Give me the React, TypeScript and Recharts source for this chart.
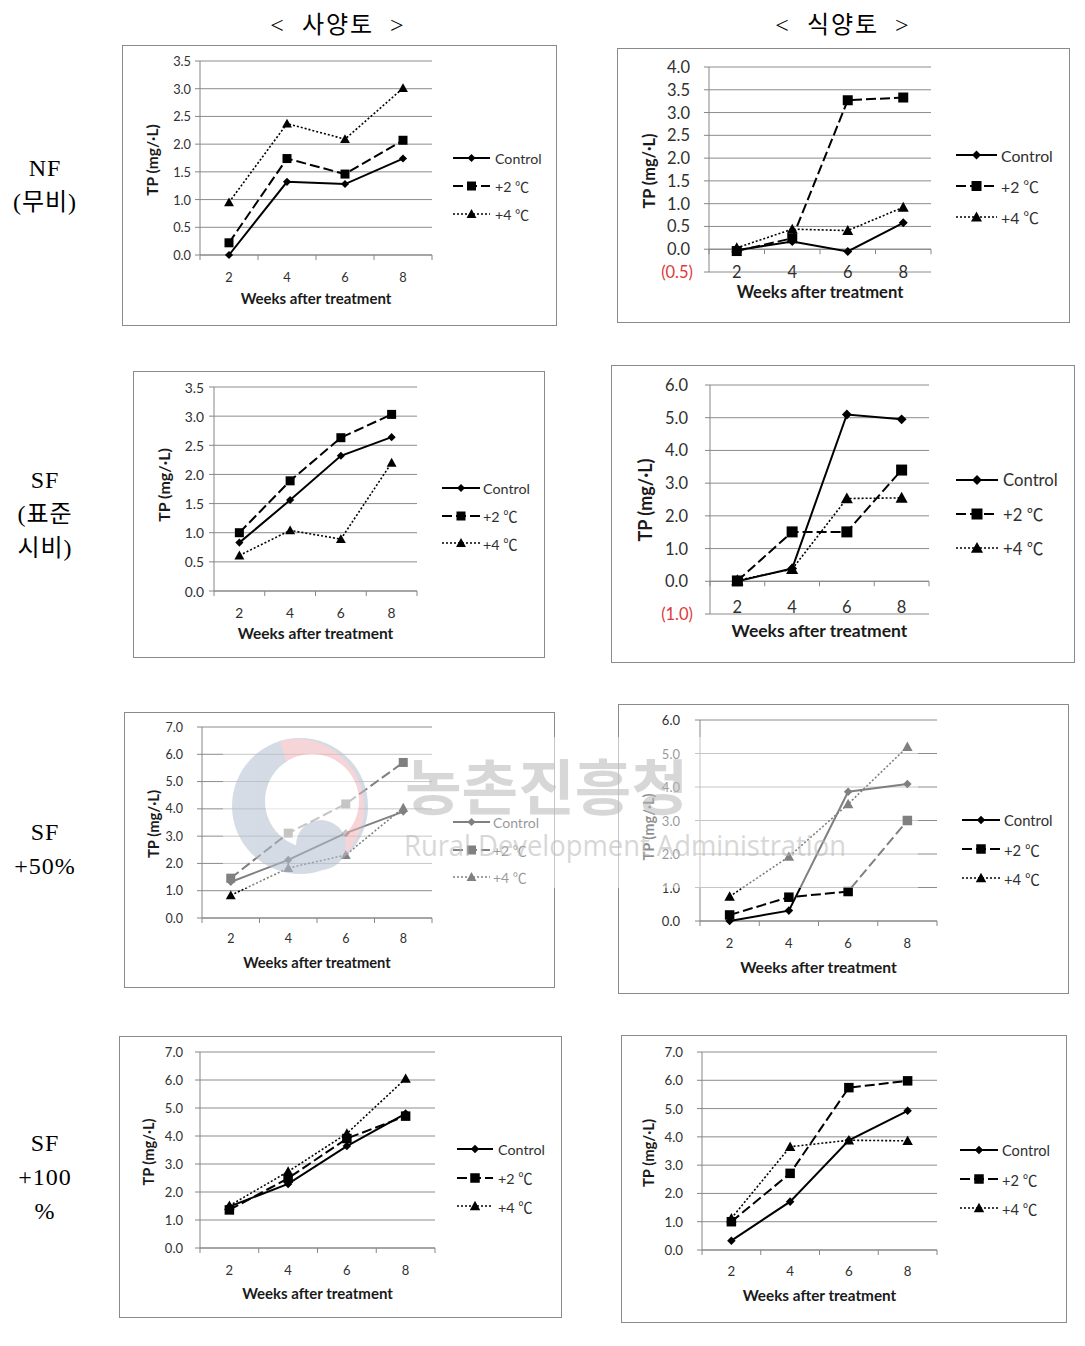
import React from "react";
import {
  LineChart,
  Line,
  XAxis,
  YAxis,
  CartesianGrid,
  ReferenceLine,
  Legend,
} from "recharts";

// x categories (weeks after treatment) and the category boundaries used for axis tick marks
const weeks = [2, 4, 6, 8];
const weekBounds = [1, 3, 5, 7, 9];
const seriesNames = ["Control", "+2 ℃", "+4 ℃"];
const seriesKeys = ["control", "plus2", "plus4"];

// NF (무비)
const nfSandyControl = [0.0, 1.32, 1.28, 1.74];
const nfSandyPlus2 = [0.22, 1.74, 1.46, 2.07];
const nfSandyPlus4 = [0.95, 2.37, 2.09, 3.01];
const nfClayControl = [-0.02, 0.17, -0.05, 0.58];
const nfClayPlus2 = [-0.04, 0.24, 3.27, 3.33];
const nfClayPlus4 = [0.03, 0.44, 0.41, 0.92];

// SF (표준시비)
const sfSandyControl = [0.83, 1.56, 2.32, 2.64];
const sfSandyPlus2 = [1.0, 1.89, 2.63, 3.03];
const sfSandyPlus4 = [0.61, 1.04, 0.89, 2.2];
const sfClayControl = [0.0, 0.39, 5.1, 4.95];
const sfClayPlus2 = [0.01, 1.51, 1.51, 3.4];
const sfClayPlus4 = [0.03, 0.37, 2.53, 2.55];

// SF +50%
const sf50SandyControl = [1.32, 2.13, 3.11, 3.9];
const sf50SandyPlus2 = [1.46, 3.11, 4.18, 5.7];
const sf50SandyPlus4 = [0.83, 1.83, 2.31, 4.04];
const sf50ClayControl = [0.0, 0.31, 3.86, 4.09];
const sf50ClayPlus2 = [0.18, 0.71, 0.88, 3.0];
const sf50ClayPlus4 = [0.73, 1.92, 3.49, 5.2];

// SF +100%
const sf100SandyControl = [1.48, 2.29, 3.64, 4.8];
const sf100SandyPlus2 = [1.36, 2.49, 3.91, 4.71];
const sf100SandyPlus4 = [1.51, 2.73, 4.09, 6.05];
const sf100ClayControl = [0.33, 1.71, 3.88, 4.92];
const sf100ClayPlus2 = [1.0, 2.71, 5.74, 5.98];
const sf100ClayPlus4 = [1.12, 3.65, 3.88, 3.86];

// y tick labels
const ticks35 = [0, 0.5, 1.0, 1.5, 2.0, 2.5, 3.0, 3.5];
const ticks40 = [-0.5, 0, 0.5, 1.0, 1.5, 2.0, 2.5, 3.0, 3.5, 4.0];
const ticks6neg = [-1, 0, 1, 2, 3, 4, 5, 6];
const ticks6 = [0, 1, 2, 3, 4, 5, 6];
const ticks7 = [0, 1, 2, 3, 4, 5, 6, 7];

const FONT = "Lato, 'Noto Sans CJK KR', sans-serif";
const TEXT = "#303030";
const GRID = "#8c8c8c";
const AXIS = "#868686";
const RED = "#e0383c";

const seriesStyle = [
  { marker: "diamond", width: 2, dash: undefined as string | undefined },
  { marker: "square", width: 2, dash: "10 4" },
  { marker: "triangle", width: 1.6, dash: "2 2" },
];

function Marker({ kind, cx, cy, s }: { kind: string; cx: number; cy: number; s: number }) {
  if (cx == null || cy == null) return <g />;
  if (kind === "diamond") {
    const h = s * 0.45;
    return <polygon points={`${cx},${cy - h} ${cx + h},${cy} ${cx},${cy + h} ${cx - h},${cy}`} fill="#000" />;
  }
  if (kind === "square") {
    return <rect x={cx - s / 2} y={cy - s / 2} width={s} height={s} fill="#000" />;
  }
  const h = s * 0.55;
  return <polygon points={`${cx},${cy - h} ${cx + h},${cy + h * 0.8} ${cx - h},${cy + h * 0.8}`} fill="#000" />;
}

interface PanelCfg {
  box: number[];
  plot: number[];
  domain: number[];
  ticks: number[];
  series: number[][];
  tickFont: number;
  titleFont: number;
  yLabelFont: number;
  legendFont: number;
  marker: number;
  yGap: number;
  yGapNeg: number;
  xLabelY: number;
  titleY: number;
  yLabelX: number;
  yLabelY: number;
  legend: { x0: number; x1: number; tx: number; ys: number[] };
}

const panels: PanelCfg[] = [
  {
    box: [122, 45, 435, 281], plot: [200, 61, 432, 255], domain: [0, 3.5], ticks: ticks35,
    series: [nfSandyControl, nfSandyPlus2, nfSandyPlus4],
    tickFont: 12.8, titleFont: 15, yLabelFont: 15.5, legendFont: 14.2, marker: 9, yGap: 9, yGapNeg: 9,
    xLabelY: 277, titleY: 298, yLabelX: 152, yLabelY: 160,
    legend: { x0: 453, x1: 490, tx: 495, ys: [158, 186, 214] },
  },
  {
    box: [617, 48, 453, 275], plot: [709, 67, 931, 272], domain: [-0.5, 4], ticks: ticks40,
    series: [nfClayControl, nfClayPlus2, nfClayPlus4],
    tickFont: 16.5, titleFont: 16.6, yLabelFont: 16.3, legendFont: 15.8, marker: 10, yGap: 19, yGapNeg: 16,
    xLabelY: 272, titleY: 292, yLabelX: 648, yLabelY: 171,
    legend: { x0: 956, x1: 997, tx: 1001, ys: [155, 186, 217] },
  },
  {
    box: [133, 371, 412, 287], plot: [214, 387, 417, 591], domain: [0, 3.5], ticks: ticks35,
    series: [sfSandyControl, sfSandyPlus2, sfSandyPlus4],
    tickFont: 13.8, titleFont: 15.5, yLabelFont: 16, legendFont: 14.3, marker: 9, yGap: 10, yGapNeg: 10,
    xLabelY: 612, titleY: 633, yLabelX: 163, yLabelY: 485,
    legend: { x0: 442, x1: 480, tx: 483, ys: [488, 516, 543] },
  },
  {
    box: [611, 365, 464, 298], plot: [710, 385, 929, 614], domain: [-1, 6], ticks: ticks6neg,
    series: [sfClayControl, sfClayPlus2, sfClayPlus4],
    tickFont: 16.5, titleFont: 17.5, yLabelFont: 18, legendFont: 16.7, marker: 11, yGap: 22, yGapNeg: 17,
    xLabelY: 607, titleY: 630, yLabelX: 645, yLabelY: 500,
    legend: { x0: 956, x1: 998, tx: 1003, ys: [480, 515, 548] },
  },
  {
    box: [124, 712, 431, 276], plot: [202, 727, 432, 918], domain: [0, 7], ticks: ticks7,
    series: [sf50SandyControl, sf50SandyPlus2, sf50SandyPlus4],
    tickFont: 12.5, titleFont: 14.7, yLabelFont: 14.8, legendFont: 14, marker: 9, yGap: 19, yGapNeg: 19,
    xLabelY: 938, titleY: 962, yLabelX: 153, yLabelY: 824,
    legend: { x0: 453, x1: 490, tx: 493, ys: [822, 851, 877] },
  },
  {
    box: [618, 704, 451, 290], plot: [700, 720, 937, 921], domain: [0, 6], ticks: ticks6,
    series: [sf50ClayControl, sf50ClayPlus2, sf50ClayPlus4],
    tickFont: 13, titleFont: 15.6, yLabelFont: 14.6, legendFont: 14.8, marker: 9.5, yGap: 20, yGapNeg: 20,
    xLabelY: 943, titleY: 967, yLabelX: 648, yLabelY: 827,
    legend: { x0: 962, x1: 1000, tx: 1004, ys: [820, 850, 878] },
  },
  {
    box: [119, 1036, 443, 282], plot: [200, 1052, 435, 1248], domain: [0, 7], ticks: ticks7,
    series: [sf100SandyControl, sf100SandyPlus2, sf100SandyPlus4],
    tickFont: 13, titleFont: 15, yLabelFont: 14.6, legendFont: 14.3, marker: 9.5, yGap: 17, yGapNeg: 17,
    xLabelY: 1270, titleY: 1293, yLabelX: 148, yLabelY: 1152,
    legend: { x0: 457, x1: 493, tx: 498, ys: [1149, 1178, 1206] },
  },
  {
    box: [621, 1035, 446, 288], plot: [702, 1052, 937, 1250], domain: [0, 7], ticks: ticks7,
    series: [sf100ClayControl, sf100ClayPlus2, sf100ClayPlus4],
    tickFont: 13.3, titleFont: 15.3, yLabelFont: 14.8, legendFont: 14.6, marker: 9.5, yGap: 19, yGapNeg: 19,
    xLabelY: 1271, titleY: 1295, yLabelX: 648, yLabelY: 1153,
    legend: { x0: 960, x1: 998, tx: 1002, ys: [1150, 1179, 1208] },
  },
];

function Panel({ cfg }: { cfg: PanelCfg }) {
  const [bx, by, bw, bh] = cfg.box;
  const [pl, pt, pr, pb] = cfg.plot;
  const [ymin, ymax] = cfg.domain;
  const rows = weeks.map((w, i) => ({
    week: w,
    control: cfg.series[0][i],
    plus2: cfg.series[1][i],
    plus4: cfg.series[2][i],
  }));
  const tickLen = (5 * (ymax - ymin)) / (pb - pt);
  const rowH = (cfg.legend.ys[2] - cfg.legend.ys[0]) / 2;
  const lw = cfg.legend.x1 - cfg.legend.x0;

  const renderLegend = () => (
    <div style={{ fontFamily: FONT, fontSize: cfg.legendFont, color: TEXT }}>
      {seriesNames.map((name, i) => (
        <div key={name} style={{ height: rowH, display: "flex", alignItems: "center" }}>
          <svg width={lw} height={14} style={{ overflow: "visible" }}>
            <line
              x1={0}
              y1={7}
              x2={lw}
              y2={7}
              stroke="#000"
              strokeWidth={seriesStyle[i].width}
              strokeDasharray={seriesStyle[i].dash}
            />
            <Marker kind={seriesStyle[i].marker} cx={lw / 2} cy={7} s={cfg.marker} />
          </svg>
          <span style={{ marginLeft: cfg.legend.tx - cfg.legend.x1, whiteSpace: "nowrap" }}>{name}</span>
        </div>
      ))}
    </div>
  );

  return (
    <div style={{ position: "absolute", left: bx, top: by, width: bw, height: bh }}>
      <LineChart
        width={bw}
        height={bh}
        data={rows}
        margin={{ top: pt - by, right: bx + bw - pr, bottom: 0, left: 0 }}
      >
        <CartesianGrid vertical={false} stroke={GRID} />
        <XAxis
          type="number"
          dataKey="week"
          domain={[1, 9]}
          ticks={weeks}
          interval={0}
          axisLine={false}
          tickLine={false}
          tickSize={0}
          tickMargin={0}
          height={by + bh - pb}
          tick={(p: any) => (
            <text
              x={p.x}
              y={p.y + (cfg.xLabelY - pb)}
              textAnchor="middle"
              dominantBaseline="central"
              fontFamily={FONT}
              fontSize={cfg.tickFont}
              fill={TEXT}
            >
              {p.payload.value}
            </text>
          )}
          label={{
            value: "Weeks after treatment",
            content: () => (
              <text
                x={(pl + pr) / 2 - bx}
                y={cfg.titleY - by}
                textAnchor="middle"
                dominantBaseline="central"
                fontFamily={FONT}
                fontSize={cfg.titleFont}
                fontWeight="bold"
                fill="#1a1a1a"
              >
                Weeks after treatment
              </text>
            ),
          }}
        />
        <YAxis
          type="number"
          domain={cfg.domain}
          ticks={cfg.ticks}
          interval={0}
          width={pl - bx}
          tickSize={5}
          tickMargin={0}
          axisLine={{ stroke: AXIS }}
          tickLine={{ stroke: AXIS }}
          tick={(p: any) => {
            const v = p.payload.value;
            const neg = v < 0;
            return (
              <text
                x={p.x + 5 - (neg ? cfg.yGapNeg : cfg.yGap)}
                y={p.y}
                textAnchor="end"
                dominantBaseline="central"
                fontFamily={FONT}
                fontSize={cfg.tickFont}
                fill={neg ? RED : TEXT}
              >
                {neg ? `(${Math.abs(v).toFixed(1)})` : v.toFixed(1)}
              </text>
            );
          }}
          label={{
            value: "TP (mg/·L)",
            content: () => (
              <text
                x={cfg.yLabelX - bx}
                y={cfg.yLabelY - by}
                transform={`rotate(-90 ${cfg.yLabelX - bx} ${cfg.yLabelY - by})`}
                textAnchor="middle"
                dominantBaseline="central"
                fontFamily={FONT}
                fontSize={cfg.yLabelFont}
                fontWeight="bold"
                fill="#1a1a1a"
              >
                TP (mg/·L)
              </text>
            ),
          }}
        />
        <ReferenceLine y={0} stroke={AXIS} ifOverflow="visible" />
        {weekBounds.map((b) => (
          <ReferenceLine
            key={`tk-${b}`}
            segment={[
              { x: b, y: 0 },
              { x: b, y: -tickLen },
            ]}
            stroke={AXIS}
            ifOverflow="visible"
          />
        ))}
        {seriesKeys.map((k, i) => (
          <Line
            key={k}
            type="linear"
            dataKey={k}
            stroke="#000"
            strokeWidth={seriesStyle[i].width}
            strokeDasharray={seriesStyle[i].dash}
            dot={(p: any) => (
              <Marker key={`${k}-${p.index}`} kind={seriesStyle[i].marker} cx={p.cx} cy={p.cy} s={cfg.marker} />
            )}
            activeDot={false}
            isAnimationActive={false}
          />
        ))}
        <Legend
          layout="horizontal"
          verticalAlign="middle"
          align="center"
          width={130}
          content={renderLegend}
          wrapperStyle={{
            left: cfg.legend.x0 - bx,
            top: cfg.legend.ys[0] - rowH / 2 - by,
            width: 130,
          }}
        />
      </LineChart>
      <div
        style={{
          position: "absolute",
          left: 0,
          top: 0,
          width: bw,
          height: bh,
          boxSizing: "border-box",
          border: "1px solid #8a8a8a",
          pointerEvents: "none",
        }}
      />
    </div>
  );
}

// Semi-transparent agency watermark that sits over the SF+50% row
function Watermark() {
  const cx = 300;
  const cy = 806;
  const r = 68;
  return (
    <svg
      width={1085}
      height={1346}
      style={{ position: "absolute", left: 0, top: 0, pointerEvents: "none" }}
    >
      <rect x={223} y={737} width={695} height={151} fill="#fff" opacity={0.5} />
      <g opacity={0.55}>
        <circle cx={cx} cy={cy} r={r} fill="#b3bfcf" />
        <path
          d={`M ${cx - 20} ${cy - r + 3} A ${r} ${r} 0 0 1 ${cx + 30} ${cy + r - 8} L ${cx} ${cy} Z`}
          fill="#f0b4b9"
        />
        <circle cx={312} cy={801} r={47} fill="#fff" />
        <circle cx={321} cy={845} r={25} fill="#b3bfcf" />
      </g>
      <text
        x={405}
        y={810}
        fontFamily="'Noto Sans CJK KR', sans-serif"
        fontSize={60}
        fontWeight="bold"
        textLength={283}
        lengthAdjust="spacingAndGlyphs"
        fill="#b8b8b8"
        opacity={0.55}
      >
        농촌진흥청
      </text>
      <text
        x={404}
        y={856}
        fontFamily="'Open Sans', sans-serif"
        fontSize={30}
        textLength={442}
        lengthAdjust="spacingAndGlyphs"
        fill="#b8b8b8"
        opacity={0.55}
      >
        Rural Development Administration
      </text>
    </svg>
  );
}

const rowLabels = [
  { lines: ["NF", "(무비)"], top: 168 },
  { lines: ["SF", "(표준", "시비)"], top: 480 },
  { lines: ["SF", "+50%"], top: 832 },
  { lines: ["SF", "+100", "%"], top: 1143 },
];

const headers = [
  { text: "<  사양토  >", cx: 338 },
  { text: "<  식양토  >", cx: 843 },
];

const serif = "'Liberation Serif', 'Noto Sans CJK KR', serif";

export default function App() {
  return (
    <div
      style={{
        position: "absolute",
        left: 0,
        top: 0,
        width: 1085,
        height: 1346,
        background: "#fff",
        overflow: "hidden",
      }}
    >
      {headers.map((h) => (
        <div
          key={h.text}
          style={{
            position: "absolute",
            left: h.cx - 100,
            top: 8,
            width: 200,
            textAlign: "center",
            fontFamily: serif,
            fontSize: 24,
            letterSpacing: 2,
            whiteSpace: "pre",
            lineHeight: "34px",
          }}
        >
          {h.text}
        </div>
      ))}
      {rowLabels.map((r) => (
        <div
          key={r.top}
          style={{
            position: "absolute",
            left: 0,
            top: r.top - 17,
            width: 90,
            textAlign: "center",
            fontFamily: serif,
            fontSize: 24,
            lineHeight: "34px",
            letterSpacing: 1,
          }}
        >
          {r.lines.map((t) => (
            <div key={t}>{t}</div>
          ))}
        </div>
      ))}
      {panels.map((cfg, i) => (
        <Panel key={i} cfg={cfg} />
      ))}
      <Watermark />
    </div>
  );
}
